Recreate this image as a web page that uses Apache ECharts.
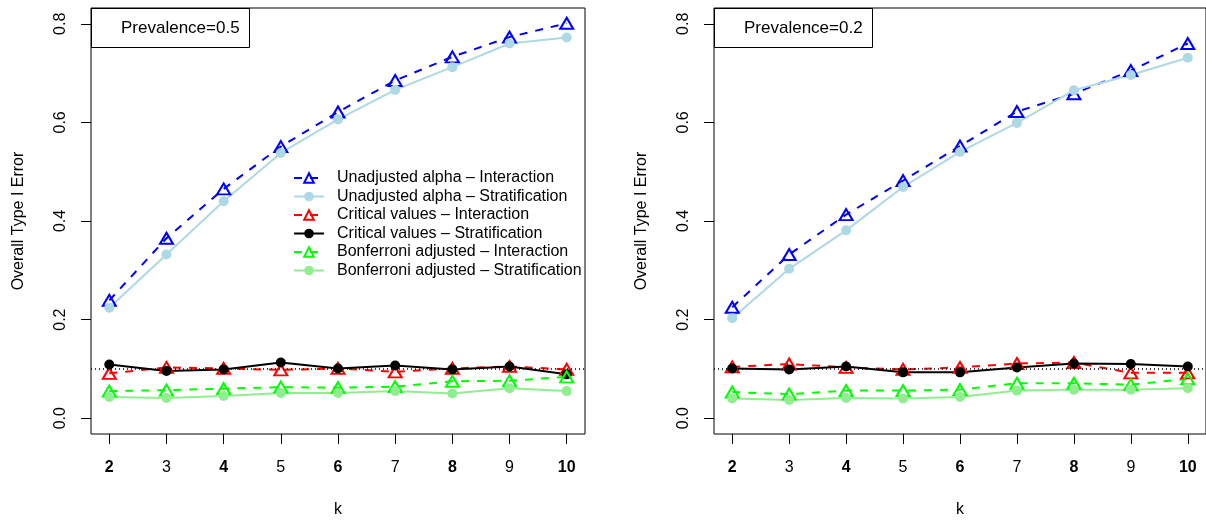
<!DOCTYPE html>
<html>
<head>
<meta charset="utf-8">
<script src="https://cdn.jsdelivr.net/npm/echarts@6/dist/echarts.min.js"></script>
<style>
  html, body { margin: 0; padding: 0; background: #fff; }
  #main { width: 1206px; height: 523px; }
</style>
</head>
<body>
<div id="main"></div>
<script>
// k values on the x axis
var ks = [2, 3, 4, 5, 6, 7, 8, 9, 10];
var xTicks = [2, 3, 4, 5, 6, 7, 8, 9, 10];
var yTicks = [0, 0.2, 0.4, 0.6, 0.8];

var seriesNames = [
  'Unadjusted alpha \u2013 Interaction',
  'Unadjusted alpha \u2013 Stratification',
  'Critical values \u2013 Interaction',
  'Critical values \u2013 Stratification',
  'Bonferroni adjusted \u2013 Interaction',
  'Bonferroni adjusted \u2013 Stratification'
];

// Prevalence = 0.5
var unadjInter05 = [0.239, 0.365, 0.465, 0.551, 0.621, 0.685, 0.733, 0.773, 0.801];
var unadjStrat05 = [0.224, 0.332, 0.440, 0.538, 0.606, 0.666, 0.712, 0.760, 0.772];
var critInter05  = [0.091, 0.103, 0.101, 0.098, 0.101, 0.094, 0.101, 0.105, 0.099];
var critStrat05  = [0.109, 0.096, 0.099, 0.113, 0.101, 0.107, 0.099, 0.105, 0.089];
var bonfInter05  = [0.055, 0.057, 0.060, 0.063, 0.062, 0.064, 0.075, 0.076, 0.084];
var bonfStrat05  = [0.043, 0.041, 0.045, 0.051, 0.051, 0.055, 0.050, 0.061, 0.055];

// Prevalence = 0.2
var unadjInter02 = [0.225, 0.332, 0.413, 0.482, 0.552, 0.622, 0.658, 0.705, 0.760];
var unadjStrat02 = [0.203, 0.303, 0.381, 0.469, 0.540, 0.599, 0.665, 0.696, 0.731];
var critInter02  = [0.104, 0.110, 0.103, 0.099, 0.103, 0.111, 0.113, 0.092, 0.092];
var critStrat02  = [0.101, 0.099, 0.105, 0.093, 0.093, 0.103, 0.111, 0.110, 0.105];
var bonfInter02  = [0.053, 0.049, 0.056, 0.056, 0.058, 0.071, 0.071, 0.068, 0.080];
var bonfStrat02  = [0.040, 0.037, 0.041, 0.040, 0.043, 0.056, 0.058, 0.058, 0.061];

var refLine = 0.1;

var colors = ['#0000FF', '#ADD8E6', '#FF0000', '#000000', '#00FF00', '#90EE90'];
var dashed = [true, false, true, false, true, false];

var FONT = 'Liberation Sans, Arial, Helvetica, sans-serif';

function pairs(arr) {
  return ks.map(function (k, i) { return [k, arr[i]]; });
}

function makeSeries(idx, gridIdx, values) {
  var c = colors[idx];
  var tri = dashed[idx];
  return {
    name: seriesNames[idx],
    type: 'line',
    xAxisIndex: gridIdx,
    yAxisIndex: gridIdx,
    data: pairs(values),
    symbol: tri ? 'triangle' : 'circle',
    symbolSize: tri ? [13, 11] : 10,
    showAllSymbol: true,
    lineStyle: { color: c, width: 2, type: tri ? [8, 8] : 'solid' },
    itemStyle: tri
      ? { color: 'rgba(255,255,255,0)', borderColor: c, borderWidth: 2 }
      : { color: c, borderWidth: 0 },
    emphasis: { disabled: true },
    animation: false,
    z: 3
  };
}

function makeX(gridIdx) {
  return {
    type: 'value', gridIndex: gridIdx, min: 1.68, max: 10.32,
    splitLine: { show: false },
    axisLine: { show: false, onZero: false },
    axisTick: { show: true, inside: false, length: 10, lineStyle: { color: '#000' }, customValues: xTicks },
    axisLabel: {
      show: true, margin: 26, fontSize: 16, color: '#000', fontFamily: FONT, customValues: xTicks,
      // even labels render heavier in the original
      formatter: function (v) { return v % 2 === 0 ? '{b|' + v + '}' : '' + v; },
      rich: { b: { fontSize: 16, fontWeight: 'bold', color: '#000', fontFamily: FONT } }
    },
    name: 'k', nameLocation: 'middle', nameGap: 68,
    nameTextStyle: { fontSize: 16, color: '#000', fontFamily: FONT }
  };
}

function makeY(gridIdx) {
  return {
    type: 'value', gridIndex: gridIdx, min: -0.032, max: 0.832,
    splitLine: { show: false },
    axisLine: { show: false, onZero: false },
    axisTick: { show: true, inside: false, length: 10, lineStyle: { color: '#000' }, customValues: yTicks },
    axisLabel: {
      show: true, margin: 22, rotate: 90, fontSize: 16, color: '#000', fontFamily: FONT,
      customValues: yTicks,
      formatter: function (v) { return v.toFixed(1); }
    },
    name: 'Overall Type I Error', nameLocation: 'middle', nameGap: 64, nameRotate: 90,
    nameTextStyle: { fontSize: 16, color: '#000', fontFamily: FONT }
  };
}

var series = [];
[unadjInter05, unadjStrat05, critInter05, critStrat05, bonfInter05, bonfStrat05].forEach(function (v, i) {
  series.push(makeSeries(i, 0, v));
});
[unadjInter02, unadjStrat02, critInter02, critStrat02, bonfInter02, bonfStrat02].forEach(function (v, i) {
  series.push(makeSeries(i, 1, v));
});

// dotted reference line at 0.1 in both panels
[0, 1].forEach(function (g) {
  series.push({
    type: 'line', xAxisIndex: g, yAxisIndex: g, data: [], silent: true, z: 2,
    markLine: {
      silent: true, symbol: 'none', label: { show: false }, animation: false,
      lineStyle: { color: '#000', type: [1, 3], width: 1.5 },
      data: [{ yAxis: refLine }]
    }
  });
});

var titleText = { fontSize: 17, fontWeight: 'normal', color: '#000', fontFamily: FONT };

var myChart = echarts.init(document.getElementById('main'));
myChart.setOption({
  backgroundColor: '#fff',
  animation: false,
  textStyle: { fontFamily: FONT },
  title: [
    {
      text: 'Prevalence=0.5', left: 91, top: 8,
      borderColor: '#000', borderWidth: 1, padding: [12, 10, 11, 30],
      textStyle: titleText
    },
    {
      text: 'Prevalence=0.2', left: 714, top: 8,
      borderColor: '#000', borderWidth: 1, padding: [12, 10, 11, 30],
      textStyle: titleText
    }
  ],
  legend: {
    data: seriesNames,
    orient: 'vertical',
    left: 293, top: 170, padding: 0,
    itemWidth: 30, itemHeight: 12, itemGap: 2.5,
    selectedMode: false,
    textStyle: { fontSize: 16, color: '#000', fontFamily: FONT, padding: [0, 0, 0, 8], lineHeight: 16 }
  },
  grid: [
    { left: 91, top: 8, width: 494, height: 432, show: true, borderColor: '#000', borderWidth: 1, backgroundColor: 'transparent' },
    { left: 714, top: 8, width: 493, height: 432, show: true, borderColor: '#000', borderWidth: 1, backgroundColor: 'transparent' }
  ],
  xAxis: [makeX(0), makeX(1)],
  yAxis: [makeY(0), makeY(1)],
  series: series
});
</script>
</body>
</html>
